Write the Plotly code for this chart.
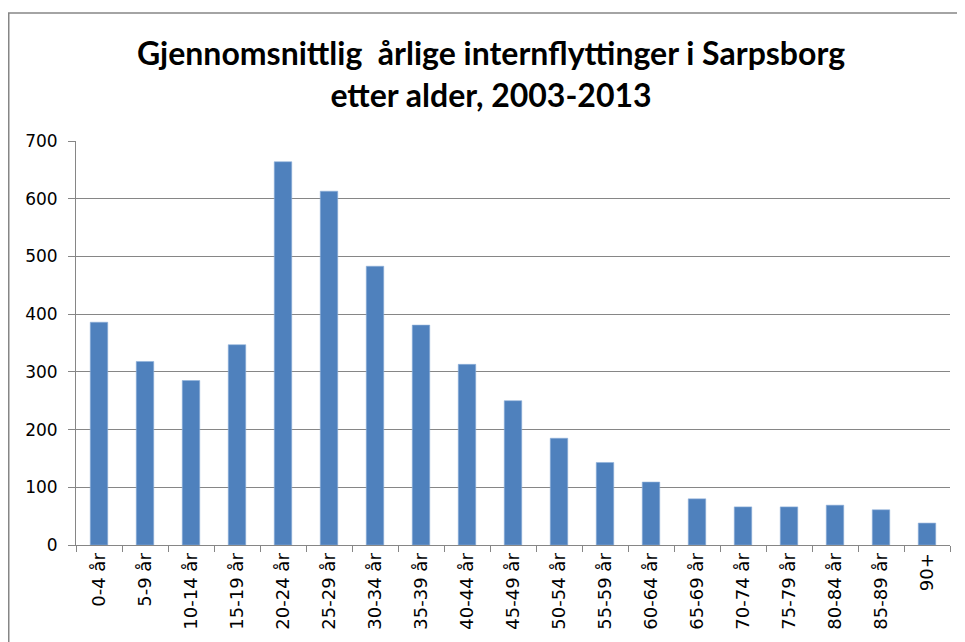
import plotly.graph_objects as go

categories = ["0-4 år", "5-9 år", "10-14 år", "15-19 år", "20-24 år", "25-29 år",
              "30-34 år", "35-39 år", "40-44 år", "45-49 år", "50-54 år", "55-59 år",
              "60-64 år", "65-69 år", "70-74 år", "75-79 år", "80-84 år", "85-89 år", "90+"]
values = [386, 318, 285, 347, 664, 613, 483, 381, 313, 250, 185, 143, 109, 80, 66, 66, 69, 61, 38]
y_ticks = [0, 100, 200, 300, 400, 500, 600, 700]
title_lines = ["Gjennomsnittlig  årlige internflyttinger i Sarpsborg", "etter alder, 2003-2013"]

fig = go.Figure()
fig.add_trace(go.Bar(
    x=categories, y=values,
    marker=dict(color="#4F81BD", line=dict(color="#8FB0DA", width=0.6)),
))

OFF = 8  # page body margin
W, H = 965 - OFF, 642 - OFF
L, T = 76 - OFF, 141 - OFF
R = W - (950 - OFF)
B = H - (545 - OFF)
pw = W - L - R
ph = H - T - B

fig.update_layout(
    width=W, height=H,
    margin=dict(l=L, r=R, t=T, b=B, autoexpand=False),
    paper_bgcolor="white", plot_bgcolor="white",
    bargap=0.62,
    showlegend=False,
    title=dict(text="<br>".join("<b>" + t + "</b>" for t in title_lines),
               x=(491 - OFF) / W, xanchor="center", y=1 - (65 - OFF) / H, yanchor="middle",
               font=dict(family="Lato", size=32, color="black")),
    xaxis=dict(
        type="category", tickangle=-90, ticks="outside", ticklen=6, tickson="boundaries",
        tickcolor="#868686", showline=True, linecolor="#868686", linewidth=1,
        showgrid=False, automargin=False,
        tickfont=dict(family="DejaVu Sans", size=18, color="black"),
    ),
    yaxis=dict(
        range=[0, 700], tickvals=y_ticks, ticks="outside", ticklen=7, tickcolor="#868686",
        showline=True, linecolor="#868686", linewidth=1, automargin=False,
        showgrid=True, gridcolor="#868686", gridwidth=1, zeroline=False,
        ticklabelstandoff=7,
        tickfont=dict(family="DejaVu Sans", size=17, color="black"),
    ),
    shapes=[dict(
        type="rect", xref="paper", yref="paper",
        x0=(0.75 - L) / pw, x1=(W + 10 - L) / pw,
        y0=(H - B - (H + 10)) / ph, y1=(H - B - (13 - OFF)) / ph,
        line=dict(color="#868686", width=1.5), fillcolor="rgba(0,0,0,0)", layer="below",
    )],
)

fig.write_html("out.html")
